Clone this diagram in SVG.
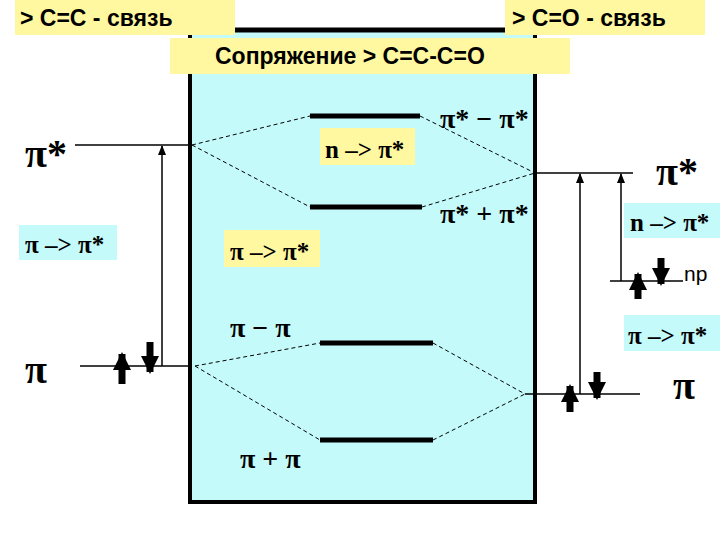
<svg xmlns="http://www.w3.org/2000/svg" width="720" height="540" viewBox="0 0 720 540">
<defs>
<style>
.lab{font-family:"Liberation Sans",Arial,sans-serif;font-weight:bold;font-size:23px;fill:#000}
.gr{font-family:"Liberation Serif","Times New Roman",serif;font-weight:bold;fill:#000}
.lvl{stroke:#000;stroke-width:1.5}
.orb{stroke:#000;stroke-width:5}
.dash{stroke:#000;stroke-width:1;stroke-dasharray:4,3;fill:none}
.thin{stroke:#000;stroke-width:1.5}
.el{stroke:#000;stroke-width:7}
</style>
<marker id="ah" markerWidth="10" markerHeight="8" refX="9" refY="4" orient="auto" markerUnits="userSpaceOnUse" viewBox="0 0 10 8"><path d="M0,0 L10,4 L0,8 Z" fill="#000"/></marker>
<marker id="eh" markerWidth="18" markerHeight="18" refX="16" refY="9" orient="auto" markerUnits="userSpaceOnUse" viewBox="0 0 18 18"><path d="M0,0 L18,9 L0,18 Z" fill="#000"/></marker>
</defs>
<rect width="720" height="540" fill="#fff"/>
<g id="box"><rect x="190" y="30" width="345" height="472" fill="#c4fafa" stroke="#000" stroke-width="4"/>
<line x1="172" y1="30" x2="505" y2="30" stroke="#000" stroke-width="5"/></g>
<g id="hdr-cc"><rect x="15" y="0" width="220" height="35" fill="#fff8a0"/><text class="lab" x="20" y="26">&gt; C=C  - связь</text></g>
<g id="hdr-co"><rect x="505" y="0" width="200" height="35" fill="#fff8a0"/><text class="lab" x="512" y="26">&gt; C=O - связь</text></g>
<g id="hdr-conj"><rect x="170" y="38" width="400" height="36" fill="#fff8a0"/><text class="lab" x="215" y="64">Сопряжение &gt; C=C-C=O</text></g>
<g id="connectors">
<line class="lvl" x1="75" y1="145" x2="192" y2="145"/>
<line class="lvl" x1="80" y1="366" x2="192" y2="366"/>
<line class="lvl" x1="535" y1="173" x2="633" y2="173"/>
<line class="lvl" x1="525" y1="394" x2="640" y2="394"/>
<line class="lvl" x1="610" y1="281" x2="683" y2="281"/>
<line class="orb" x1="310" y1="116" x2="420" y2="116"/>
<line class="orb" x1="310" y1="207" x2="422" y2="207"/>
<line class="orb" x1="320" y1="343" x2="433" y2="343"/>
<line class="orb" x1="320" y1="440" x2="433" y2="440"/>
<path class="dash" d="M192,145 L310,116 M192,145 L310,207 M420,116 L535,173 M422,207 L535,173 M195,366 L320,343 M195,366 L320,440 M433,343 L525,394 M433,440 L525,394"/>
<line class="thin" x1="162" y1="366" x2="162" y2="146" marker-end="url(#ah)"/>
<line class="thin" x1="580" y1="394" x2="580" y2="174" marker-end="url(#ah)"/>
<line class="thin" x1="621" y1="281" x2="621" y2="174" marker-end="url(#ah)"/>
<line class="el" x1="122" y1="384" x2="122" y2="354" marker-end="url(#eh)"/>
<line class="el" x1="150" y1="342" x2="150" y2="372" marker-end="url(#eh)"/>
<line class="el" x1="570" y1="412" x2="570" y2="386" marker-end="url(#eh)"/>
<line class="el" x1="597" y1="372" x2="597" y2="398" marker-end="url(#eh)"/>
<line class="el" x1="638" y1="299" x2="638" y2="274" marker-end="url(#eh)"/>
<line class="el" x1="661" y1="258" x2="661" y2="284" marker-end="url(#eh)"/>
</g>
<g id="lbl-pistar-l"><text class="gr" x="25" y="167" font-size="40">π*</text></g>
<g id="lbl-pi-l"><text class="gr" x="25" y="383" font-size="40">π</text></g>
<g id="lbl-pistar-r"><text class="gr" x="656" y="185" font-size="40">π*</text></g>
<g id="lbl-pi-r"><text class="gr" x="673" y="399" font-size="40">π</text></g>
<g id="lbl-ps-minus"><text class="gr" x="440" y="128" font-size="28">π* − π*</text></g>
<g id="lbl-ps-plus"><text class="gr" x="440" y="223" font-size="28">π* + π*</text></g>
<g id="lbl-p-minus"><text class="gr" x="230" y="337" font-size="28">π − π</text></g>
<g id="lbl-p-plus"><text class="gr" x="240" y="468" font-size="28">π + π</text></g>
<g id="t-n-in"><rect x="320" y="128" width="95" height="37" fill="#fff8a0"/><text class="gr" x="325" y="158" font-size="25">n –&gt; π*</text></g>
<g id="t-pp-in"><rect x="224" y="230" width="96" height="37" fill="#fff8a0"/><text class="gr" x="230" y="260" font-size="25">π –&gt; π*</text></g>
<g id="t-pp-l"><rect x="19" y="225" width="98" height="35" fill="#c4fafa"/><text class="gr" x="25" y="253" font-size="25">π –&gt; π*</text></g>
<g id="t-n-r"><rect x="624" y="203" width="96" height="35" fill="#c4fafa"/><text class="gr" x="630" y="231" font-size="25">n –&gt; π*</text></g>
<g id="t-pp-r"><rect x="624" y="315" width="96" height="36" fill="#c4fafa"/><text class="gr" x="628" y="344" font-size="25">π –&gt; π*</text></g>
<g id="lbl-np"><text x="684" y="281" font-family="Liberation Sans,Arial,sans-serif" font-size="21">np</text></g>
</svg>
